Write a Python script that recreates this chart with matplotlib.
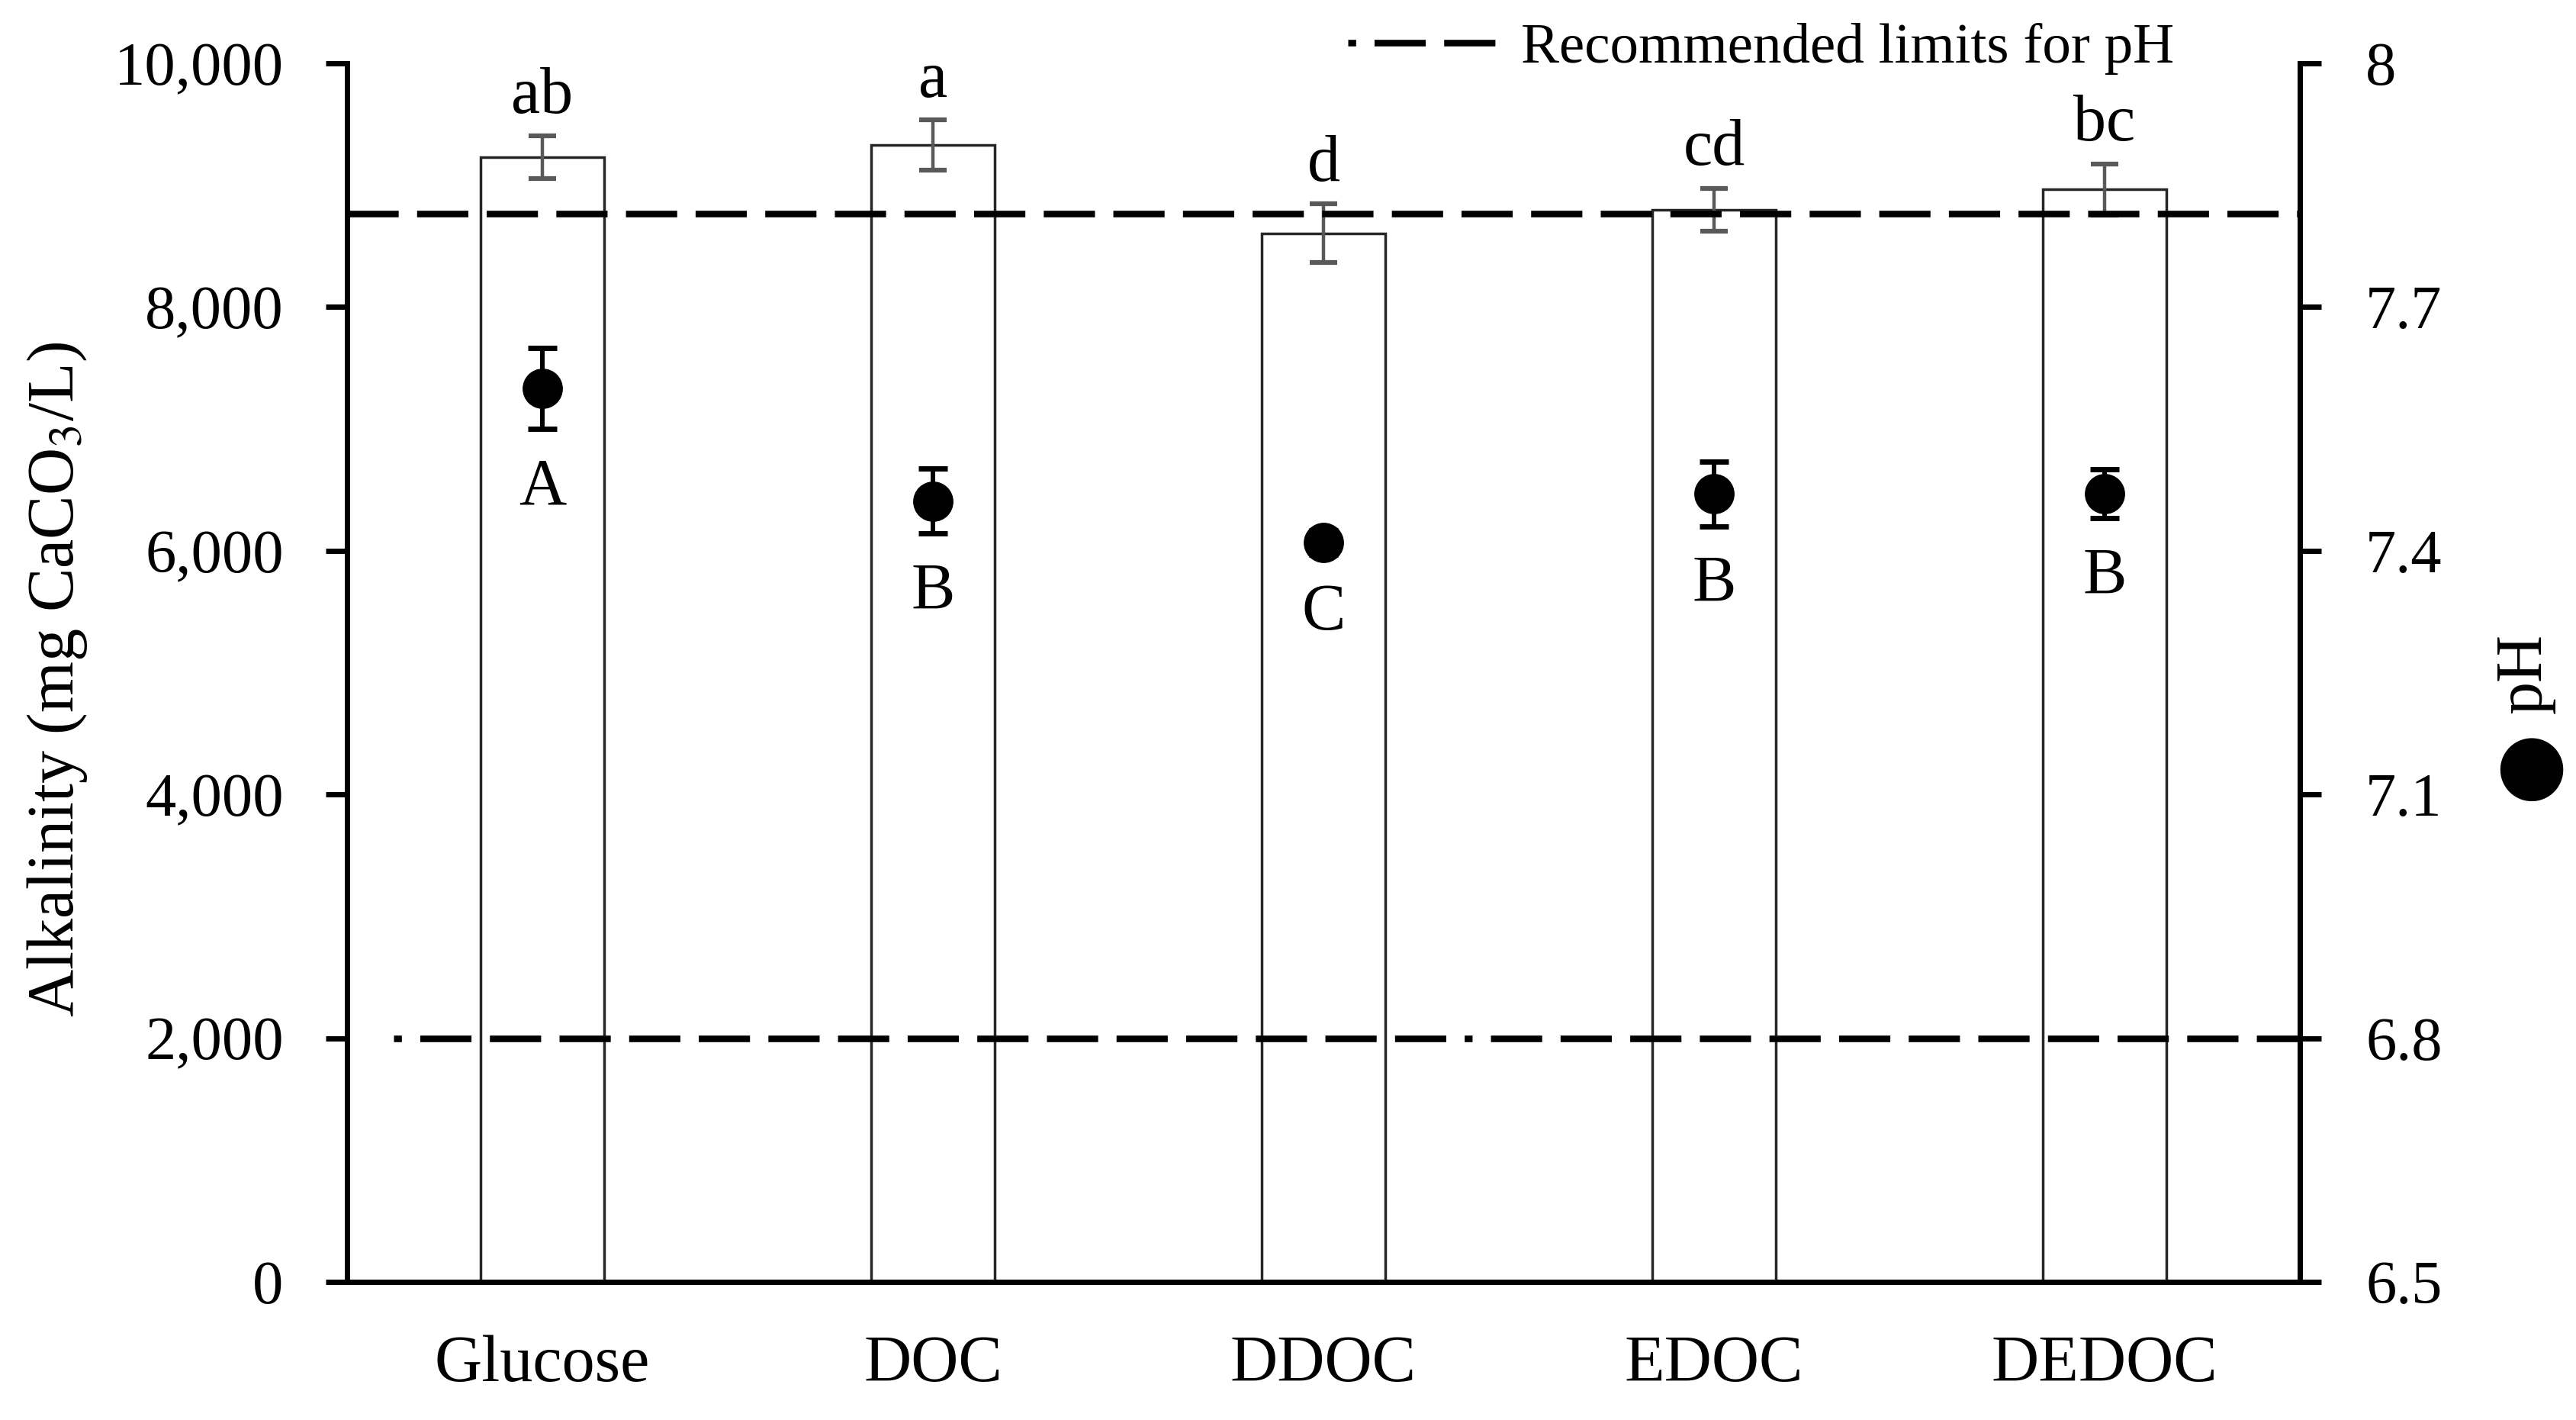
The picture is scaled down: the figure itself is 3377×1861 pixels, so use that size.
import matplotlib
matplotlib.use('Agg')
import matplotlib.pyplot as plt
from matplotlib.lines import Line2D
import numpy as np

# ---------------- data ----------------
categories = ['Glucose', 'DOC', 'DDOC', 'EDOC', 'DEDOC']
alkalinity = [9230, 9330, 8605, 8800, 8965]
alkalinity_err = [175, 205, 240, 175, 210]
alk_letters = ['ab', 'a', 'd', 'cd', 'bc']
ph = [7.600, 7.461, 7.410, 7.470, 7.470]
ph_err = [0.050, 0.040, 0.015, 0.040, 0.030]
ph_letters = ['A', 'B', 'C', 'B', 'B']
ph_limit_low = 6.8
ph_limit_high = 7.815
alk_ticks = [0, 2000, 4000, 6000, 8000, 10000]
ph_ticks = [6.5, 6.8, 7.1, 7.4, 7.7, 8.0]
ph_tick_labels = ['6.5', '6.8', '7.1', '7.4', '7.7', '8']
legend_label = 'Recommended limits for pH'

# ---------------- style ----------------
plt.rcParams['font.family'] = ['Liberation Serif', 'DejaVu Serif']
plt.rcParams['mathtext.fontset'] = 'stix'

W, H = 3377, 1861
fig = plt.figure(figsize=(W / 100, H / 100), dpi=100)
left, right, bottom, top = 455 / W, 3015 / W, 1 - 1680 / H, 1 - 83 / H
ax = fig.add_axes([left, bottom, right - left, top - bottom])

x = np.arange(len(categories))
ax.bar(x, alkalinity, width=0.316, color='white', edgecolor='#262626',
       linewidth=2.5, zorder=2)
ax.errorbar(x, alkalinity, yerr=alkalinity_err, fmt='none', ecolor='#595959',
            elinewidth=3.2, capsize=13, capthick=4.5, zorder=3)
for xi, v, e, t in zip(x, alkalinity, alkalinity_err, alk_letters):
    ax.text(xi, v + e + 190, t, ha='center', va='baseline', fontsize=62)

ax.set_xlim(-0.5, len(categories) - 0.5)
ax.set_ylim(0, 10000)
ax.set_yticks(alk_ticks)
ax.set_yticklabels([f'{v:,}' for v in alk_ticks])
ax.set_xticks(x)
ax.set_xticklabels(categories)
ax.tick_params(axis='y', direction='out', length=20, width=5, pad=40, labelsize=58)
ax.tick_params(axis='x', length=0, pad=50, labelsize=62)
for s in ['top', 'right']:
    ax.spines[s].set_visible(False)
for s in ['left', 'bottom']:
    ax.spines[s].set_linewidth(5)

# secondary axis: pH
ax2 = ax.twinx()
ax2.set_ylim(6.5, 8.0)
ax2.set_yticks(ph_ticks)
ax2.set_yticklabels(ph_tick_labels)
ax2.tick_params(axis='y', direction='out', length=20, width=5, pad=42, labelsize=58)
for s in ['top', 'left', 'bottom']:
    ax2.spines[s].set_visible(False)
ax2.spines['right'].set_linewidth(5)

lw_dash = 6.2
ax2.axhline(ph_limit_high, color='black', lw=lw_dash, linestyle=(0, (7.8, 2.8)), zorder=2)
ax2.axhline(ph_limit_low, xmin=0.024, color='black', lw=lw_dash,
            linestyle=(0, [1.2, 2.8] + [7.8, 2.8] * 40), zorder=2)

ax2.errorbar(x, ph, yerr=ph_err, fmt='o', color='black', markersize=37,
             elinewidth=4.3, capsize=14, capthick=5, zorder=4)
for xi, v, e, t in zip(x, ph, ph_err, ph_letters):
    ax2.text(xi, v - e - 0.092, t, ha='center', va='baseline', fontsize=62)

# legend
handle = Line2D([], [], color='black', lw=lw_dash,
                linestyle=(0, [1.2, 2.8, 7.8, 2.8, 7.8, 2.8]))
fig.legend([handle], [legend_label], loc='center left',
           bbox_to_anchor=(1767 / W, 1 - 64 / H), frameon=False, fontsize=54,
           handlelength=2.6, handletextpad=0.43, borderpad=0, borderaxespad=0)

# axis titles
fig.text(75 / W, 1 - 890 / H, 'Alkalinity (mg CaCO$_3$/L)', rotation=90,
         ha='center', va='center', fontsize=62)
fig.text(3310 / W, 1 - 882 / H, 'pH', rotation=90, ha='center', va='center',
         fontsize=62)
fig.text(3312 / W, 1 - 1003 / H, '●', rotation=90, ha='center', va='center',
         fontsize=78, family='DejaVu Sans')

fig.savefig('out.png', dpi=100, facecolor='white')
